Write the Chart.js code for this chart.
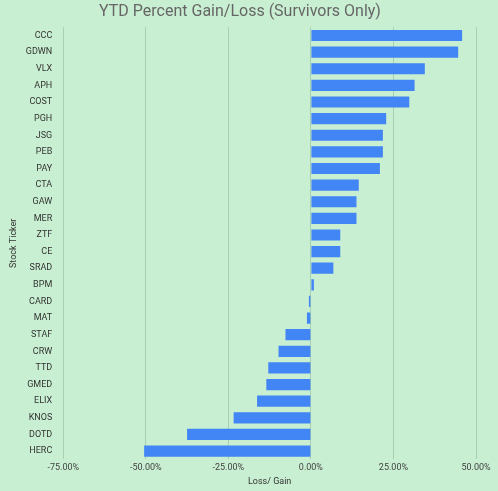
<!DOCTYPE html>
<html><head><script src="https://cdn.jsdelivr.net/npm/chart.js"></script>
<style>html,body{margin:0;background:#c9efd2;}#w{width:498px;height:491px;}</style></head>
<body><div id="w"><canvas id="c"></canvas></div>
<script>
const categories=["CCC","GDWN","VLX","APH","COST","PGH","JSG","PEB","PAY","CTA","GAW","MER","ZTF","CE","SRAD","BPM","CARD","MAT","STAF","CRW","TTD","GMED","ELIX","KNOS","DOTD","HERC"];
const values=[45.8,44.6,34.5,31.4,29.8,22.8,21.8,21.8,20.9,14.5,13.8,13.8,8.9,8.9,6.8,0.9,-0.6,-1.2,-7.7,-9.8,-12.9,-13.5,-16.3,-23.4,-37.5,-50.5];
const tickValues=[-75,-50,-25,0,25,50];
new Chart(document.getElementById('c'),{type:'bar',
data:{labels:categories,datasets:[{data:values,backgroundColor:'#4285f4',barPercentage:0.75,categoryPercentage:0.9}]},
options:{indexAxis:'y',responsive:true,maintainAspectRatio:false,animation:false,
layout:{padding:{right:22,left:4,bottom:4}},
plugins:{legend:{display:false},title:{display:true,text:'YTD Percent Gain/Loss (Survivors Only)',color:'#666',font:{family:'Roboto',size:16,weight:'normal'},padding:{top:2,bottom:6}}},
scales:{x:{min:-75,max:50,afterBuildTicks:a=>{a.ticks=tickValues.map(v=>({value:v}));},
ticks:{color:'#444',font:{family:'Roboto',size:9},callback:v=>v.toFixed(2)+'%'},
grid:{color:'#a9cfb2',drawTicks:false},border:{display:false},
title:{display:true,text:'Loss/ Gain',color:'#333',font:{family:'Roboto',size:9},padding:0}},
y:{ticks:{color:'#333',font:{family:'Roboto',size:9}},grid:{display:false},border:{display:false},
title:{display:true,text:'Stock Ticker',color:'#333',font:{family:'Roboto',size:9}}}}}});
</script></body></html>
